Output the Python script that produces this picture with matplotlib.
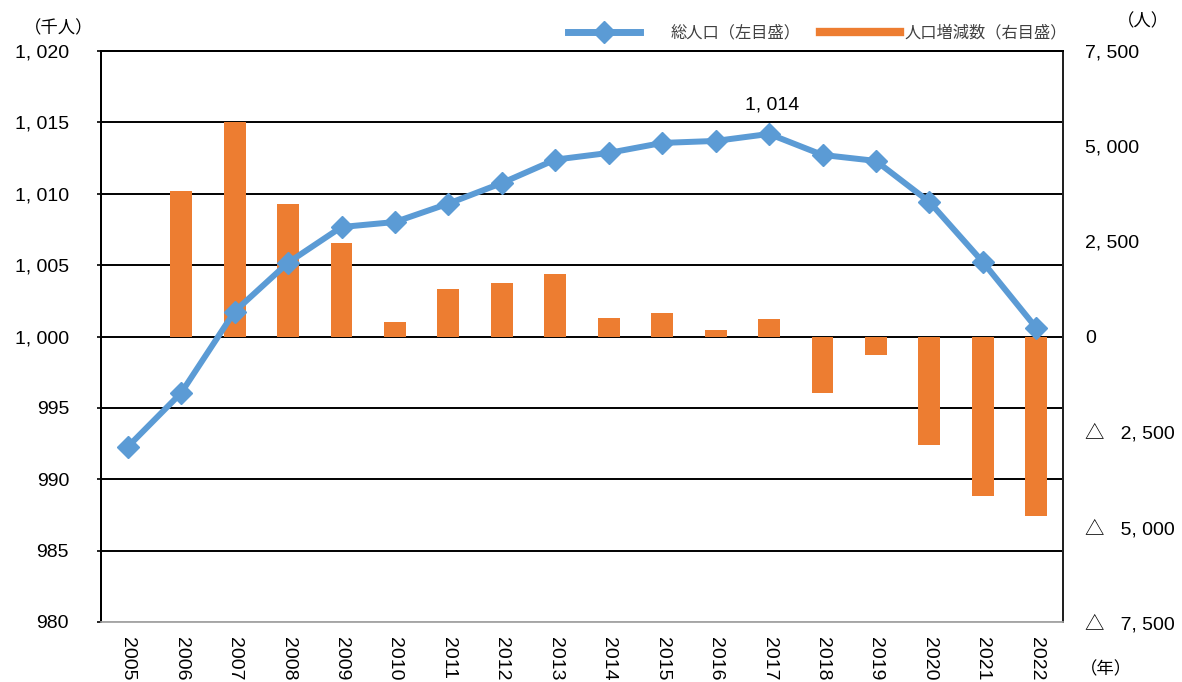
import matplotlib
matplotlib.use("Agg")
import matplotlib.pyplot as plt
from matplotlib.lines import Line2D
from matplotlib.ticker import FuncFormatter, MultipleLocator

plt.rcParams['font.family'] = ['Liberation Sans', 'Noto Sans CJK JP']

# total population (thousand people), left scale
years = [str(y) for y in range(2005, 2023)]
population = [992.27, 996.05, 1001.75, 1005.17, 1007.67, 1008.02, 1009.31,
              1010.75, 1012.39, 1012.86, 1013.56, 1013.70, 1014.19, 1012.72,
              1012.30, 1009.43, 1005.22, 1000.60]
# yearly change (people), right scale; no bar for the first year
change = [0, 3812, 5634, 3488, 2445, 377, 1253, 1402, 1630, 491, 623, 158,
          447, -1472, -473, -2847, -4196, -4705]

line_label = '総人口（左目盛）'
bar_label = '人口増減数（右目盛）'

BLUE = '#5B9BD5'
ORANGE = '#ED7D31'
FS = 14


def comma(v):
    return f"{abs(v):,.0f}".replace(",", ", ")


def left_fmt(v, pos):
    return comma(v)


def right_fmt(v, pos):
    if abs(v) < 1e-9:
        return "0"
    return ("△   " if v < 0 else "") + comma(v)


fig = plt.figure(figsize=(11.82, 6.82), dpi=100)
ax = fig.add_axes([101 / 1182, 1 - 622 / 682, 962 / 1182, 571 / 682])
ax2 = ax.twinx()

x = list(range(len(years)))

# left axis: grid and scale
ax.set_ylim(980, 1020)
ax.yaxis.set_major_locator(MultipleLocator(5))
ax.yaxis.set_major_formatter(FuncFormatter(left_fmt))
ax.grid(axis='y', color='black', linewidth=1.4, zorder=0)
ax.set_xlim(-0.5, len(years) - 0.5)
ax.set_xticks(x)
ax.set_xticklabels(years, rotation=270, va='top', ha='center', fontsize=FS)
ax.tick_params(axis='x', length=0, pad=11)
ax.tick_params(axis='y', labelsize=FS, length=3, pad=20, width=1.2)

# right axis: bars, then the line on top in left-axis units
ax2.set_ylim(-7500, 7500)
ax2.yaxis.set_major_locator(MultipleLocator(2500))
ax2.yaxis.set_major_formatter(FuncFormatter(right_fmt))
ax2.tick_params(axis='y', labelsize=FS, length=0, pad=16)
for lbl in ax2.get_yticklabels():
    lbl.set_horizontalalignment('left')

ax2.bar(x[1:], change[1:], width=0.41, color=ORANGE, zorder=2)
ax2.plot(x, population, color=BLUE, linewidth=4.3, marker='D', markersize=11,
         transform=ax.transData, zorder=3, clip_on=False)

peak = population.index(max(population))
ax2.annotate(comma(round(population[peak])), xy=(peak, population[peak]),
             xycoords=ax.transData, xytext=(2, 21), textcoords='offset points',
             ha='center', va='center', fontsize=FS)

for a in (ax, ax2):
    a.spines['left'].set_color('black')
    a.spines['left'].set_linewidth(1.4)
    a.spines['right'].set_color('#222222')
    a.spines['right'].set_linewidth(1.4)
    a.spines['top'].set_color('black')
    a.spines['top'].set_linewidth(1.4)
    a.spines['bottom'].set_color('#aaaaaa')
    a.spines['bottom'].set_linewidth(1.2)

# unit labels
fig.text(59 / 1182, 1 - 28 / 682, '（千人）', ha='center', va='center', fontsize=12.5)
fig.text(1143 / 1182, 1 - 21 / 682, '（人）', ha='center', va='center', fontsize=12.5)
fig.text(1106 / 1182, 1 - 669 / 682, '（年）', ha='center', va='center', fontsize=12.5)

# legend, one entry at a time
h_line = Line2D([], [], color=BLUE, linewidth=5, marker='D', markersize=11)
h_bar = Line2D([], [], color=ORANGE, linewidth=6)
leg1 = fig.legend([h_line], [line_label], loc='center left',
                  bbox_to_anchor=(568 / 1182, 1 - 33 / 682), frameon=False,
                  fontsize=11.7, handlelength=4.4, handletextpad=1.9,
                  borderpad=0, borderaxespad=0, labelcolor='#404040')
leg2 = fig.legend([h_bar], [bar_label], loc='center left',
                  bbox_to_anchor=(820 / 1182, 1 - 33 / 682), frameon=False,
                  fontsize=11.7, handlelength=4.9, handletextpad=0.3,
                  borderpad=0, borderaxespad=0, labelcolor='#404040')

fig.savefig('out.png', dpi=100)
